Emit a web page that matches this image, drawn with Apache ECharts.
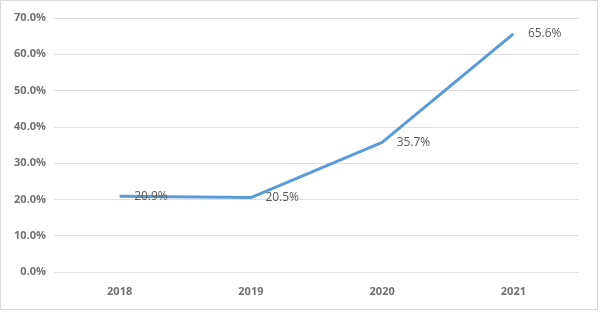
<!DOCTYPE html>
<html><head><meta charset="utf-8">
<script src="https://cdn.jsdelivr.net/npm/echarts@6/dist/echarts.min.js"></script>
<style>html,body{margin:0;padding:0;background:#fff}#c{position:absolute;left:0;top:0;width:598px;height:310px;border:1px solid #d9d9d9;box-sizing:border-box}</style>
</head><body><div id="c"></div>
<script>
const categories = ['2018','2019','2020','2021'];
const values = [20.9, 20.5, 35.7, 65.6];
const yTicks = {min:0, max:70, interval:10};
const chart = echarts.init(document.getElementById('c'), null, {renderer:'canvas'});
chart.setOption({
  animation:false,
  grid:{left:53, right:18, top:17, bottom:37, containLabel:false},
  xAxis:{type:'category', data:categories, boundaryGap:true,
    axisLine:{show:false}, axisTick:{show:false},
    axisLabel:{color:'#707070', fontSize:11, fontFamily:'Open Sans', fontWeight:'bold', margin:14}},
  yAxis:{type:'value', min:yTicks.min, max:yTicks.max, interval:yTicks.interval,
    axisLine:{show:false}, axisTick:{show:false},
    splitLine:{lineStyle:{color:'#e0e0e0', width:1}},
    axisLabel:{color:'#707070', fontSize:11, fontFamily:'Open Sans', fontWeight:'bold', margin:8,
      formatter:v=>v.toFixed(1)+'%'}},
  series:[{type:'line', data:values, symbol:'circle', symbolSize:1, showSymbol:true, smooth:false,
    itemStyle:{color:'rgba(91,155,213,0)'},
    lineStyle:{color:'#5b9bd5', width:3},
    labelLayout:{hideOverlap:false},
    label:{show:true, position:'right', distance:14, offset:[0,1], color:'#595959', fontSize:12, fontFamily:'Open Sans',
      formatter:p=>p.value.toFixed(1)+'%'}}]
});
</script></body></html>
